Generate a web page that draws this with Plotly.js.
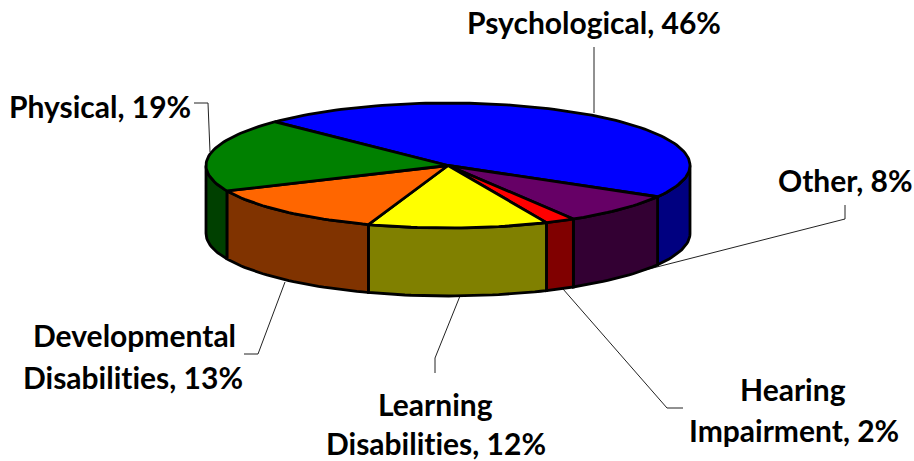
<!DOCTYPE html>
<html>
<head>
<meta charset="utf-8">
<script src="https://cdn.plot.ly/plotly-3.0.1.min.js"></script>
<style>html,body{margin:0;padding:0;background:#fff}#chart{width:914px;height:461px}text{font-variant-ligatures:none !important;font-feature-settings:"liga" 0,"clig" 0 !important}</style>
</head>
<body>
<div id="chart"></div>
<script>
// Data, clockwise from the start angle
const categories = ["Psychological", "Other", "Hearing Impairment", "Learning Disabilities", "Developmental Disabilities", "Physical"];
const shares = [46, 8, 2, 12, 13, 19];
const topColors = ["#0000FF", "#660066", "#FF0000", "#FFFF00", "#FF6600", "#008000"];
const sideColors = ["#000080", "#330033", "#800000", "#808000", "#803300", "#004000"];

// Pie projection (axis units = pixels)
const cx = 448, cy = 165.5, rx = 242, ry = 62.5, depth = 68, startDeg = -45.6;
const rad = d => d * Math.PI / 180;
const px = t => cx + rx * Math.sin(rad(t));
const py = (t, dz) => cy - ry * Math.cos(rad(t)) + (dz || 0);
function arc(a, b, dz) {
  const xs = [], ys = [], n = Math.max(2, Math.ceil((b - a) / 1.5));
  for (let i = 0; i <= n; i++) { const t = a + (b - a) * i / n; xs.push(px(t)); ys.push(py(t, dz)); }
  return [xs, ys];
}

const traces = [];
let acc = startDeg;
const spans = shares.map(v => { const s = [acc, acc + v * 3.6]; acc = s[1]; return s; });
const base = {type: "scatter", mode: "lines", fill: "toself", hoverinfo: "text", showlegend: false};

// Front walls
spans.forEach(([a, b], i) => {
  const lo = Math.max(a, 90), hi = Math.min(b, 270);
  if (hi <= lo) return;
  const [x1, y1] = arc(lo, hi, 0), [x2, y2] = arc(lo, hi, depth);
  traces.push({...base, x: x1.concat(x2.reverse(), [x1[0]]), y: y1.concat(y2.reverse(), [y1[0]]),
    fillcolor: sideColors[i], line: {color: "#000", width: 2.8}, text: categories[i]});
});
// Top faces
spans.forEach(([a, b], i) => {
  const [x1, y1] = arc(a, b, 0);
  traces.push({...base, x: [cx].concat(x1, [cx]), y: [cy].concat(y1, [cy]),
    fillcolor: topColors[i], line: {color: "#000", width: 2.8}, text: categories[i]});
});

// Label lines: [text line, centre x, centre y]
const pct = i => categories[i].split(" ").pop() + ", " + shares[i] + "%";
const labelLines = [
  [pct(0), 594, 22],
  [pct(5), 100, 106],
  [pct(1), 845, 180],
  ["Developmental", 134.5, 335],
  [pct(4), 133, 377],
  ["Learning", 435, 404],
  [pct(3), 436, 442.5],
  ["Hearing", 793, 389],
  ["Impairment, " + shares[2] + "%", 793.5, 430]
];
const annotations = labelLines.map(([text, x, y]) => ({
  text, x, y, xref: "x", yref: "y", showarrow: false, xanchor: "center", yanchor: "middle",
  font: {family: "Lato, sans-serif", size: 30, color: "#000", weight: 700}
}));

// Leader lines
const leaders = [
  "M594,47 L594,113",
  "M194,103 L208,103 L210,152",
  "M845,205 L845,219 L645,270",
  "M563,289 L667,408 L683,408",
  "M460,296 L435,358 L435,373",
  "M285,282 L258,354 L244,354"
];
const shapes = leaders.map(path => ({type: "path", path, xref: "x", yref: "y", layer: "below", line: {color: "#222", width: 1}}));

Plotly.newPlot("chart", traces, {
  width: 914, height: 461,
  margin: {l: 0, r: 0, t: 0, b: 0},
  paper_bgcolor: "#fff", plot_bgcolor: "#fff",
  xaxis: {range: [0, 914], visible: false, fixedrange: true},
  yaxis: {range: [461, 0], visible: false, fixedrange: true},
  showlegend: false, annotations, shapes
}, {displayModeBar: false, staticPlot: false});
</script>
</body>
</html>
